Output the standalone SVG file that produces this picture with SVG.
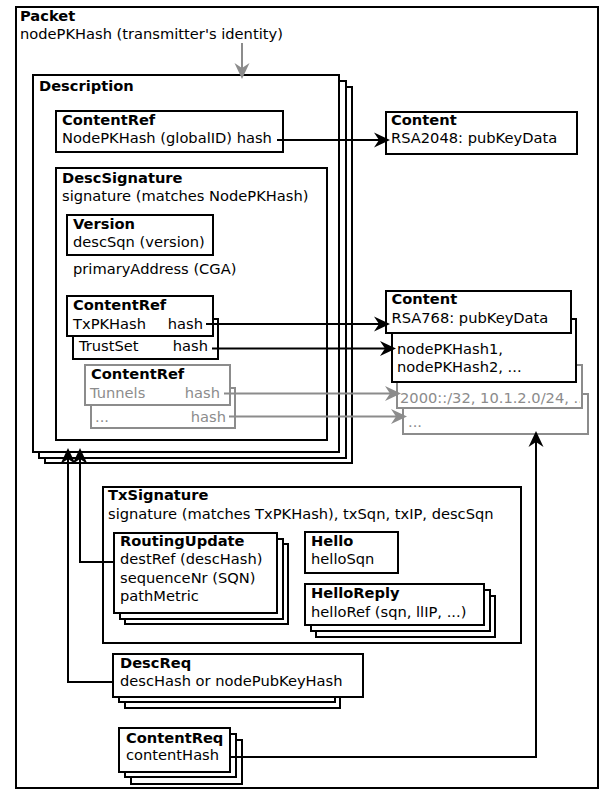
<svg xmlns="http://www.w3.org/2000/svg" width="603" height="793" viewBox="0 0 603 793">
<style>
text{font-family:"DejaVu Sans","Liberation Sans",sans-serif;font-size:14.67px;fill:#000}
.b{font-weight:bold}
.g{fill:#8c8c8c}
.e{text-anchor:end}
rect{fill:#fff;stroke:#000;stroke-width:2}
rect.gr{stroke:#8c8c8c}
.c{fill:none;stroke:#000;stroke-width:2}
.cg{fill:none;stroke:#8c8c8c;stroke-width:2}
</style>
<defs>
<marker id="a" viewBox="-17 -8 17 16" refX="-4" refY="0" markerWidth="17" markerHeight="16" markerUnits="userSpaceOnUse" orient="auto"><path d="M0,0 L-16,-7.5 L-11,0 L-16,7.5 Z" fill="#000"/></marker>
<marker id="ag" viewBox="-17 -8 17 16" refX="-4" refY="0" markerWidth="17" markerHeight="16" markerUnits="userSpaceOnUse" orient="auto"><path d="M0,0 L-16,-7.5 L-11,0 L-16,7.5 Z" fill="#8c8c8c"/></marker>
<clipPath id="clip3"><rect x="398" y="360" width="182" height="47"/></clipPath>
</defs>

<g id="packet">
<rect x="16" y="7" width="582" height="781"/>
<text x="20" y="21" class="b">Packet</text>
<text x="20" y="39">nodePKHash (transmitter's identity)</text>
</g>

<g id="description">
<rect x="45" y="87" width="307" height="376"/>
<rect x="39" y="81" width="307" height="377"/>
<rect x="33" y="75" width="306" height="377"/>
<text x="39" y="91" class="b">Description</text>
</g>

<g id="contentref-global">
<rect x="56" y="111" width="227" height="41"/>
<text x="62" y="125" class="b">ContentRef</text>
<text x="62" y="143">NodePKHash (globalID) hash</text>
</g>

<g id="content-rsa2048">
<rect x="386" y="112" width="191" height="42"/>
<text x="391" y="125" class="b">Content</text>
<text x="391" y="143">RSA2048: pubKeyData</text>
</g>

<g id="descsignature">
<rect x="56" y="168" width="271" height="272"/>
<text x="62" y="183" class="b">DescSignature</text>
<text x="62" y="201">signature (matches NodePKHash)</text>
<text x="73" y="274">primaryAddress (CGA)</text>
</g>

<g id="version">
<rect x="67" y="215" width="146" height="40"/>
<text x="73" y="228.5" class="b">Version</text>
<text x="73" y="246.5">descSqn (version)</text>
</g>

<g id="contentref-tx">
<rect x="73" y="319" width="145" height="40"/>
<rect x="67" y="296" width="146" height="40"/>
<text x="73" y="309.5" class="b">ContentRef</text>
<text x="73" y="328.5">TxPKHash</text>
<text x="203" y="328.5" class="e">hash</text>
<text x="79" y="351">TrustSet</text>
<text x="208" y="351" class="e">hash</text>
</g>

<g id="contentref-grey">
<rect x="91" y="388" width="144" height="40" class="gr"/>
<rect x="85" y="365" width="145" height="40" class="gr"/>
<text x="91" y="378.5" class="b">ContentRef</text>
<text x="90" y="397.5" class="g">Tunnels</text>
<text x="220" y="397.5" class="g e">hash</text>
<text x="95" y="421.5" class="g">...</text>
<text x="226" y="421.5" class="g e">hash</text>
</g>

<g id="content-rsa768">
<rect x="403" y="394" width="185" height="40" class="gr"/>
<text x="408" y="426.5" class="g">...</text>
<rect x="397" y="365" width="185" height="43" class="gr"/>
<text x="400" y="402.5" class="g" clip-path="url(#clip3)">2000::/32, 10.1.2.0/24, ...</text>
<rect x="392" y="319" width="184" height="63"/>
<rect x="386" y="291" width="185" height="42"/>
<text x="391.5" y="304" class="b">Content</text>
<text x="391.5" y="322.5">RSA768: pubKeyData</text>
<text x="397" y="354">nodePKHash1,</text>
<text x="397" y="372">nodePKHash2, ...</text>
</g>

<g id="txsignature">
<rect x="103" y="487" width="418" height="156"/>
<text x="108" y="500" class="b">TxSignature</text>
<text x="108" y="518.5">signature (matches TxPKHash), txSqn, txIP, descSqn</text>
</g>

<g id="routingupdate">
<rect x="125" y="544" width="163" height="80"/>
<rect x="120" y="539" width="163" height="80"/>
<rect x="114" y="533" width="163" height="80"/>
<text x="120" y="546" class="b">RoutingUpdate</text>
<text x="120" y="564">destRef (descHash)</text>
<text x="120" y="582.5">sequenceNr (SQN)</text>
<text x="120" y="600.5">pathMetric</text>
</g>

<g id="hello">
<rect x="305" y="532" width="93" height="41"/>
<text x="311" y="546" class="b">Hello</text>
<text x="311" y="564">helloSqn</text>
</g>

<g id="helloreply">
<rect x="316" y="596" width="179" height="41"/>
<rect x="311" y="590" width="179" height="41"/>
<rect x="305" y="584" width="179" height="41"/>
<text x="311" y="598" class="b">HelloReply</text>
<text x="311" y="616.5">helloRef (sqn, llIP, ...)</text>
</g>

<g id="descreq">
<rect x="125" y="666" width="215" height="42"/>
<rect x="119" y="660" width="216" height="42"/>
<rect x="113" y="654" width="250" height="43"/>
<text x="120" y="667.5" class="b">DescReq</text>
<text x="120" y="685.5">descHash or nodePubKeyHash</text>
</g>

<g id="contentreq">
<rect x="131" y="740" width="111" height="44"/>
<rect x="125" y="734" width="111" height="43"/>
<rect x="119" y="728" width="111" height="44"/>
<text x="126" y="742.5" class="b">ContentReq</text>
<text x="126" y="760">contentHash</text>
</g>

<g id="connectors">
<path class="cg" d="M242,43 V75" marker-end="url(#ag)"/>
<path class="c" d="M277,140 H386" marker-end="url(#a)"/>
<path class="c" d="M206,324 H386" marker-end="url(#a)"/>
<path class="c" d="M212,348.5 H392" marker-end="url(#a)"/>
<path class="cg" d="M224,393.5 H397" marker-end="url(#ag)"/>
<path class="cg" d="M229,416.5 H403" marker-end="url(#ag)"/>
<path class="c" d="M114,562 H80 V452" marker-end="url(#a)"/>
<path class="c" d="M113,682 H68 V452" marker-end="url(#a)"/>
<path class="c" d="M230,757 H536 V435" marker-end="url(#a)"/>
</g>
</svg>
